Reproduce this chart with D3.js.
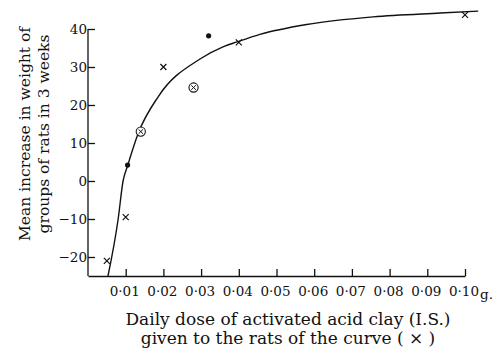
<!DOCTYPE html>
<html>
<head>
<meta charset="utf-8">
<script src="https://cdn.jsdelivr.net/npm/d3@7"></script>
<style>
  body { margin: 0; background: #fff; }
  text { font-family: "DejaVu Serif", "Liberation Serif", serif; fill: #111; }
</style>
</head>
<body>
<div id="myChart"></div>
<script>
let svgW = 497;
let svgH = 349;

// data
const crosses = [[0.005, -21], [0.01, -9.5], [0.02, 30], [0.04, 36.5], [0.10, 43.7]];
const dots = [[0.0105, 4.2], [0.032, 38.2]];
const circled = [[0.014, 13], [0.028, 24.6]];
const curvePts = [[0.0053, -25], [0.008, -10], [0.0093, 0], [0.0105, 4], [0.0133, 12.5],
  [0.0187, 22.3], [0.0297, 32.1], [0.0358, 35.3], [0.0395, 36.6], [0.0456, 38.6],
  [0.058, 41.2], [0.0756, 43.2], [0.0934, 44.2], [0.1035, 44.7]];
const xTicks = [0.01, 0.02, 0.03, 0.04, 0.05, 0.06, 0.07, 0.08, 0.09, 0.10];
const yTicks = [-20, -10, 0, 10, 20, 30, 40];

let svg = d3.select("#myChart").append("svg");
svg.attr("width", svgW);
svg.attr("height", svgH);

const x = d3.scaleLinear().domain([0, 0.10]).range([88, 465]);
const y = d3.scaleLinear().domain([-25, 40]).range([276, 29]);

// x axis, ticks pointing up
const xAxis = svg.append("g")
  .attr("transform", "translate(0," + y(-25) + ")")
  .call(d3.axisTop(x).tickValues(xTicks).tickSize(7).tickSizeOuter(0).tickFormat(""));
xAxis.selectAll("path, line").attr("stroke", "#111").attr("stroke-width", 1.3);

svg.selectAll(".xl")
  .data(xTicks)
  .enter()
  .append("text")
  .attr("x", d => x(d) - 1)
  .attr("y", y(-25) + 20)
  .attr("text-anchor", "middle")
  .style("font-size", "13.5px")
  .text(d => d3.format(".2f")(d).replace(".", "·"));
svg.append("text")
  .attr("x", x(0.10) + 15)
  .attr("y", y(-25) + 23)
  .style("font-size", "13.5px")
  .text("g.");

// y axis, ticks pointing right
const yAxis = svg.append("g")
  .attr("transform", "translate(" + x(0) + ",0)")
  .call(d3.axisRight(y).tickValues(yTicks).tickSize(7).tickSizeOuter(0).tickFormat(""));
yAxis.selectAll("path, line").attr("stroke", "#111").attr("stroke-width", 1.3);
yAxis.select("path").attr("d", "M0," + y(40) + "V" + y(-25));

svg.selectAll(".yl")
  .data(yTicks)
  .enter()
  .append("text")
  .attr("x", x(0) - 1)
  .attr("y", d => y(d) + 5)
  .attr("text-anchor", "end")
  .style("font-size", "13.5px")
  .text(d => d < 0 ? "\u2212" + Math.abs(d) : d);

// axis titles
const yTitle = ["Mean increase in weight of", "groups of rats in 3 weeks"];
yTitle.forEach((t, i) => {
  svg.append("text")
    .attr("transform", "translate(" + (30 + i * 19) + ",134) rotate(-90)")
    .attr("text-anchor", "middle")
    .style("font-size", "15.5px")
    .text(t);
});
const xTitle = ["Daily dose of activated acid clay (I.S.)", "given to the rats of the curve ( \u00d7 )"];
xTitle.forEach((t, i) => {
  svg.append("text")
    .attr("x", 288)
    .attr("y", 325 + i * 19)
    .attr("text-anchor", "middle")
    .style("font-size", "17px")
    .text(t);
});

// curve
const line = d3.line()
  .x(d => x(d[0]))
  .y(d => y(d[1]))
  .curve(d3.curveMonotoneX);
svg.append("path")
  .datum(curvePts)
  .attr("fill", "none")
  .attr("stroke", "#111")
  .attr("stroke-width", 1.4)
  .attr("d", line);

// crosses
svg.selectAll(".cross")
  .data(crosses)
  .enter()
  .append("path")
  .attr("transform", d => "translate(" + x(d[0]) + "," + y(d[1]) + ")")
  .attr("d", "M-3,-3L3,3M-3,3L3,-3")
  .attr("stroke", "#111")
  .attr("stroke-width", 1.2);

// filled dots
svg.selectAll(".dot")
  .data(dots)
  .enter()
  .append("circle")
  .attr("cx", d => x(d[0]))
  .attr("cy", d => y(d[1]))
  .attr("r", 2.6)
  .attr("fill", "#111");

// circled crosses
const cc = svg.selectAll(".cc")
  .data(circled)
  .enter()
  .append("g")
  .attr("transform", d => "translate(" + x(d[0]) + "," + y(d[1]) + ")");
cc.append("circle")
  .attr("r", 4.6)
  .attr("fill", "#fff")
  .attr("stroke", "#111")
  .attr("stroke-width", 1.1);
cc.append("path")
  .attr("d", "M-2.3,-2.3L2.3,2.3M-2.3,2.3L2.3,-2.3")
  .attr("stroke", "#111")
  .attr("stroke-width", 1);
</script>
</body>
</html>
